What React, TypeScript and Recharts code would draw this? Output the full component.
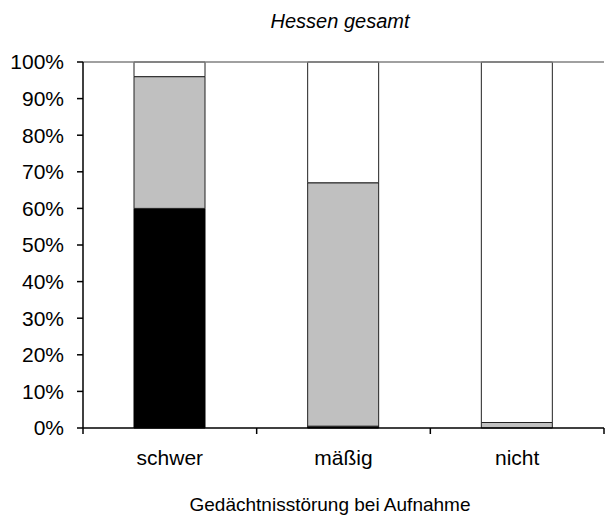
import { Bar, BarChart, ReferenceLine, XAxis, YAxis } from "recharts";

const categories = ["schwer", "mäßig", "nicht"];
const blackShare = [0.6, 0.005, 0];
const greyShare = [0.36, 0.665, 0.015];
const whiteShare = [0.04, 0.33, 0.985];
const yTicks = [0, 0.1, 0.2, 0.3, 0.4, 0.5, 0.6, 0.7, 0.8, 0.9, 1];

const data = categories.map((name, i) => ({
	name,
	black: blackShare[i],
	grey: greyShare[i],
	white: whiteShare[i],
}));

const FONT = "'Liberation Sans', Arial, sans-serif";
const PLOT_LEFT = 83;
const PLOT_RIGHT = 604;
const BAND = (PLOT_RIGHT - PLOT_LEFT) / categories.length;

function CategoryTick(props: any) {
	const { x, y, payload, index } = props;
	const left = x - BAND / 2;
	return (
		<g>
			<line x1={left} y1={y - 8} x2={left} y2={y - 2} stroke="#000" strokeWidth={1.5} />
			{index === categories.length - 1 && (
				<line x1={left + BAND} y1={y - 8} x2={left + BAND} y2={y - 2} stroke="#000" strokeWidth={1.5} />
			)}
			<text x={x} y={y + 29} textAnchor="middle" fontFamily={FONT} fontSize={21} fill="#000">
				{payload.value}
			</text>
		</g>
	);
}

export default function App() {
	return (
		<div style={{ position: "absolute", left: 0, top: 0, width: 606, height: 515, background: "#fff" }}>
			<div
				style={{
					position: "absolute",
					left: 0,
					width: 680,
					top: 10,
					textAlign: "center",
					fontFamily: FONT,
					fontStyle: "italic",
					fontSize: 20,
					lineHeight: "23px",
				}}
			>
				Hessen gesamt
			</div>
			<BarChart
				width={606}
				height={515}
				data={data}
				margin={{ top: 62, right: 606 - PLOT_RIGHT, bottom: 57, left: 0 }}
			>
				<XAxis
					dataKey="name"
					height={30}
					axisLine={{ stroke: "#000", strokeWidth: 1.5 }}
					tickLine={false}
					tick={<CategoryTick />}
					interval={0}
				/>
				<YAxis
					width={PLOT_LEFT}
					domain={[0, 1]}
					ticks={yTicks}
					interval={0}
					tickFormatter={(v: number) => `${Math.round(v * 100)}%`}
					axisLine={{ stroke: "#000", strokeWidth: 1.5 }}
					tickLine={{ stroke: "#000", strokeWidth: 1.5 }}
					tickSize={6}
					tickMargin={13}
					tick={{ fill: "#000", fontSize: 21, fontFamily: FONT }}
				/>
				<ReferenceLine y={1} stroke="#808080" strokeWidth={1.5} />
				<Bar dataKey="black" stackId="a" barSize={71} fill="#000" stroke="#000" isAnimationActive={false} />
				<Bar dataKey="grey" stackId="a" barSize={71} fill="#c0c0c0" stroke="#222" isAnimationActive={false} />
				<Bar dataKey="white" stackId="a" barSize={71} fill="#fff" stroke="#222" isAnimationActive={false} />
			</BarChart>
			<div
				style={{
					position: "absolute",
					left: 0,
					width: 660,
					top: 494,
					textAlign: "center",
					fontFamily: FONT,
					fontSize: 19,
					lineHeight: "22px",
				}}
			>
				Gedächtnisstörung bei Aufnahme
			</div>
		</div>
	);
}
